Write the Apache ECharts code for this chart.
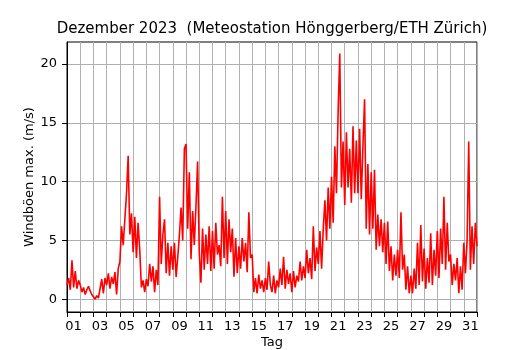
<!DOCTYPE html>
<html>
<head>
<meta charset="utf-8">
<script src="https://cdn.jsdelivr.net/npm/echarts@6/dist/echarts.min.js"></script>
<style>
  html, body { margin: 0; padding: 0; background: #fff; }
  #chart { width: 530px; height: 350px; }
</style>
</head>
<body>
<div id="chart"></div>
<script>
// Windböen max. (m/s), 8 Werte pro Tag (alle 3 Stunden), Tag 1 beginnt bei t = 0
var boeen = [
  1.2, 1.8, 0.8, 3.3, 1.0, 2.4, 0.9, 1.6,   // 01
  1.2, 0.6, 1.0, 0.4, 0.8, 1.1, 0.7, 0.4,   // 02
  0.2, 0.0, 0.3, 0.1, 0.0, 1.7, 0.5, 1.8,   // 03
  1.2, 2.2, 0.9, 1.9, 1.3, 2.3, 0.4, 2.6,   // 04
  3.2, 6.2, 4.6, 6.8, 9.0, 12.2, 5.5, 7.3,  // 05
  4.0, 7.0, 3.5, 6.5, 4.2, 1.0, 1.6, 0.6,   // 06
  1.7, 1.1, 3.0, 1.5, 2.8, 0.6, 2.5, 1.2,   // 07
  8.7, 3.0, 5.5, 6.8, 2.2, 4.8, 2.0, 4.5,   // 08
  2.5, 4.8, 1.9, 3.6, 5.5, 7.8, 5.0, 12.8,  // 09
  13.2, 6.0, 10.8, 3.4, 7.5, 4.6, 7.9, 11.7,// 10
  4.0, 1.4, 6.0, 2.5, 5.5, 3.0, 6.2, 2.4,   // 11
  5.8, 2.6, 6.5, 3.8, 4.6, 2.8, 8.7, 3.5,   // 12
  7.5, 3.0, 6.8, 4.0, 6.0, 1.9, 5.2, 2.2,   // 13
  4.5, 2.6, 5.2, 3.2, 4.8, 2.3, 7.4, 3.5,   // 14
  3.8, 0.6, 1.8, 0.5, 2.1, 0.9, 1.6, 0.6,   // 15
  1.8, 0.8, 3.2, 1.2, 0.6, 2.0, 0.5, 1.6,   // 16
  1.0, 2.6, 1.2, 3.6, 0.9, 2.5, 1.3, 2.2,   // 17
  0.6, 2.4, 1.0, 2.0, 1.5, 3.2, 1.6, 2.8,   // 18
  1.8, 4.2, 2.2, 3.5, 1.7, 6.2, 2.4, 4.4,   // 19
  3.0, 5.8, 2.6, 6.0, 8.4, 5.0, 9.5, 6.0,   // 20
  10.4, 6.5, 13.0, 9.0, 16.0, 20.9, 9.5, 13.4, // 21
  8.0, 14.2, 9.5, 12.8, 8.2, 14.7, 9.0, 13.5,  // 22
  9.0, 14.5, 8.5, 13.0, 17.0, 6.0, 11.5, 5.5,  // 23
  10.8, 6.0, 11.0, 4.2, 7.2, 4.5, 6.8, 4.0, // 24
  6.5, 3.0, 6.6, 2.4, 4.5, 1.6, 3.8, 2.0,   // 25
  4.2, 1.8, 7.4, 2.5, 3.8, 0.8, 2.8, 0.5,   // 26
  2.0, 0.5, 2.6, 0.9, 4.8, 1.2, 6.3, 1.5,   // 27
  4.3, 0.9, 3.5, 1.4, 5.6, 1.2, 4.2, 2.0,   // 28
  5.8, 1.8, 6.0, 3.0, 8.7, 2.5, 6.5, 3.2,   // 29
  3.8, 1.2, 3.0, 1.6, 3.5, 0.5, 2.8, 0.8,   // 30
  4.8, 2.2, 5.0, 13.4, 2.5, 6.2, 3.0, 6.5,  // 31
  4.5
];
var proTag = 8;

// Achsen
var tagGitter = [];      // Tagesgrenzen (Mitternacht)
for (var d = 0; d <= 31; d++) tagGitter.push(d);
var tagLabels = [];      // Beschriftung in der Tagesmitte, nur ungerade Tage
for (var d = 0; d < 31; d += 2) tagLabels.push(d + 0.5);
var yTicks = [0, 5, 10, 15, 20];

var punkte = boeen.map(function (v, i) { return [i / proTag, v]; });

var myChart = echarts.init(document.getElementById('chart'));
var schrift = 'DejaVu Sans';

var option = {
    animation: false,
    textStyle: { fontFamily: schrift },
    title: {
        text: 'Dezember 2023  (Meteostation Hönggerberg/ETH Zürich)',
        left: 267,
        top: 17,
        textAlign: 'center',
        textStyle: { fontFamily: schrift, fontSize: 15, fontWeight: 'normal', color: '#000' }
    },
    grid: {
        left: 67, right: 53, top: 42, bottom: 38,
        outerBoundsMode: 'none',
        containLabel: false,
        show: true, borderColor: '#000', borderWidth: 1, backgroundColor: 'transparent'
    },
    xAxis: {
        type: 'value',
        min: 0,
        max: 31,
        name: 'Tag',
        nameLocation: 'middle',
        nameGap: 24,
        nameMoveOverlap: false,
        nameTextStyle: { fontFamily: schrift, fontSize: 13, color: '#000' },
        axisLine: { show: true, onZero: false, lineStyle: { color: '#000' } },
        axisTick: { show: true, length: 5, customValues: tagGitter, lineStyle: { color: '#000' } },
        axisLabel: {
            customValues: tagLabels,
            margin: 8,
            fontSize: 13,
            color: '#000',
            fontFamily: schrift,
            formatter: function (v) {
                var t = Math.round(v + 0.5);
                return (t < 10 ? '0' : '') + t;
            }
        },
        splitLine: { show: true, customValues: tagGitter, lineStyle: { color: '#b0b0b0', width: 1 } }
    },
    yAxis: {
        type: 'value',
        min: -1.09,
        max: 21.87,
        name: 'Windböen max. (m/s)',
        nameLocation: 'middle',
        nameGap: 31,
        nameMoveOverlap: false,
        nameTextStyle: { fontFamily: schrift, fontSize: 13, color: '#000' },
        axisLine: { show: true, onZero: false, lineStyle: { color: '#000' } },
        axisTick: { show: true, length: 5, customValues: yTicks, lineStyle: { color: '#000' } },
        axisLabel: { customValues: yTicks, margin: 10, fontSize: 13, color: '#000', fontFamily: schrift },
        splitLine: { show: true, lineStyle: { color: '#b0b0b0', width: 1 } }
    },
    series: [{
        type: 'line',
        data: punkte,
        showSymbol: false,
        symbol: 'none',
        sampling: null,
        lineStyle: { color: '#ff0000', width: 1.6 },
        z: 5
    }]
};

myChart.setOption(option);
</script>
</body>
</html>
